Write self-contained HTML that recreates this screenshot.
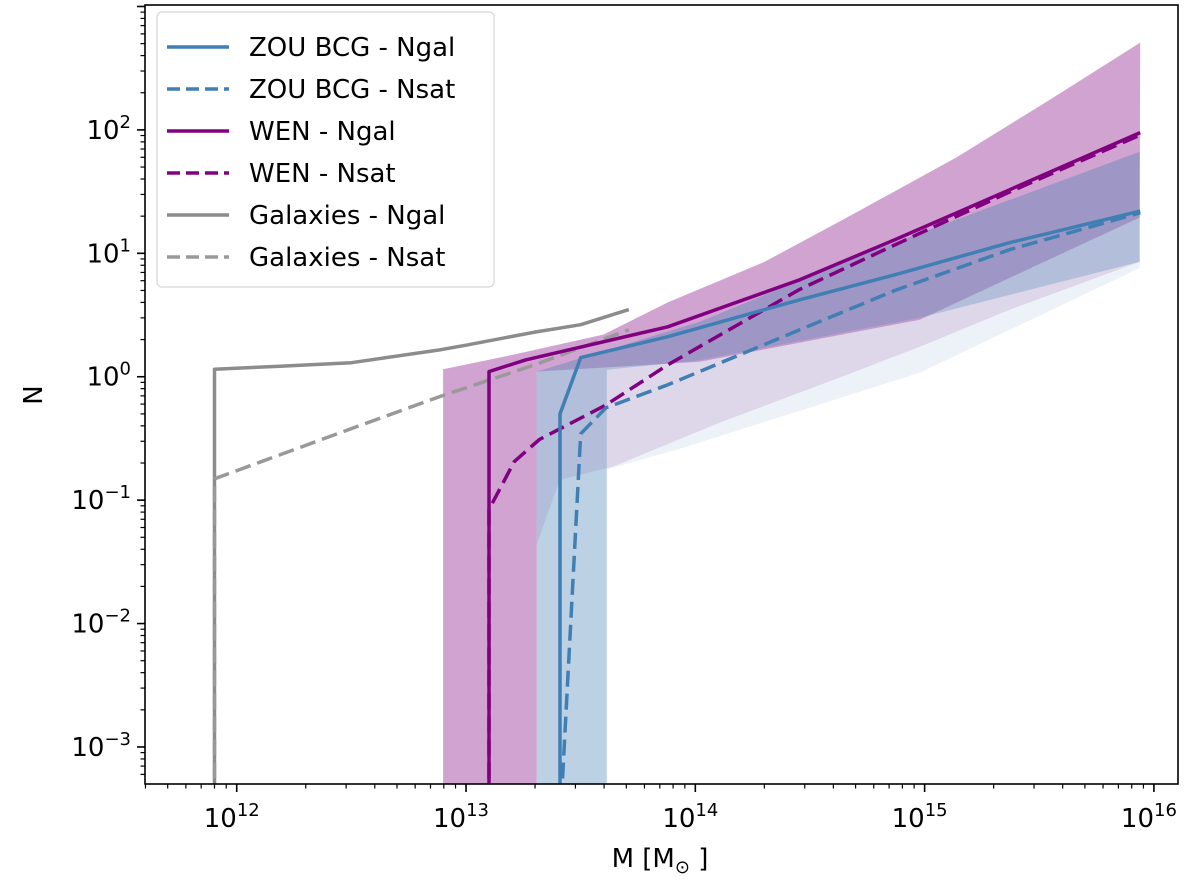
<!DOCTYPE html>
<html><head><meta charset="utf-8"><style>
body{margin:0;background:#fff;}
svg{display:block;font-family:"DejaVu Sans","Liberation Sans",sans-serif;}
</style></head><body>
<svg id="chart" width="1200" height="884" viewBox="0 0 1200 884" xmlns="http://www.w3.org/2000/svg">
<defs><clipPath id="plotclip"><rect x="145" y="5" width="1033" height="779"/></clipPath></defs>
<rect width="1200" height="884" fill="#fff"/>
<g id="bands" clip-path="url(#plotclip)"></g>
<g id="lines" clip-path="url(#plotclip)"></g>
<g id="axes"></g>
<rect x="145" y="5" width="1033" height="779" fill="none" stroke="#000" stroke-width="1.6"/>
<g>
<rect x="157" y="12" width="337" height="275" rx="5" fill="#fff" fill-opacity="0.85" stroke="#d8d8d8" stroke-width="1.3"/>
<g><line x1="167" y1="47" x2="229" y2="47" stroke="#3f7fb3" stroke-width="3.5"/><text x="249" y="56" font-size="26">ZOU BCG - Ngal</text></g>
<g><line x1="167" y1="89" x2="229" y2="89" stroke="#3f7fb3" stroke-width="3.5" stroke-dasharray="13,6"/><text x="249" y="98" font-size="26">ZOU BCG - Nsat</text></g>
<g><line x1="167" y1="131" x2="229" y2="131" stroke="#800080" stroke-width="3.5"/><text x="249" y="140" font-size="26">WEN - Ngal</text></g>
<g><line x1="167" y1="173" x2="229" y2="173" stroke="#800080" stroke-width="3.5" stroke-dasharray="13,6"/><text x="249" y="182" font-size="26">WEN - Nsat</text></g>
<g><line x1="167" y1="215" x2="229" y2="215" stroke="#8c8c8c" stroke-width="3.5"/><text x="249" y="224" font-size="26">Galaxies - Ngal</text></g>
<g><line x1="167" y1="257" x2="229" y2="257" stroke="#999" stroke-width="3.5" stroke-dasharray="13,6"/><text x="249" y="266" font-size="26">Galaxies - Nsat</text></g>
</g>
<text x="660" y="867" font-size="26" text-anchor="middle">M [M<tspan font-size="18" dy="6">⊙</tspan><tspan dy="-6"> ]</tspan></text>
<text x="0" y="0" font-size="26" text-anchor="middle" transform="translate(42,395) rotate(-90)">N</text>
</svg>
<script>
// ---- data (log10 M, N) ----
const galNgalLogM=[11.903,11.903,12.2,12.5,12.885,13.0,13.3,13.5,13.71];
const galNgalN=[1e-4,1.15,1.22,1.3,1.65,1.8,2.3,2.64,3.5];
const galNsatLogM=[11.903,11.903,12.5,12.885,13.3,13.71];
const galNsatN=[1e-4,0.149,0.38,0.69,1.25,2.4];
const wenNgalLogM=[13.10,13.10,13.26,13.88,14.455,14.87,15.37,15.94];
const wenNgalN=[1e-4,1.1,1.37,2.54,6.1,12.9,32.7,95];
const wenNsatLogM=[13.10,13.10,13.21,13.32,13.61,13.88,14.455,14.87,15.37,15.94];
const wenNsatN=[1e-4,0.084,0.205,0.31,0.59,1.25,5.1,11.7,31.4,91];
const zouNgalLogM=[13.41,13.41,13.50,13.88,14.455,14.87,15.37,15.94];
const zouNgalN=[1e-4,0.5,1.43,2.11,4.2,6.7,12.2,22];
const zouNsatLogM=[13.40,13.50,13.61,13.88,14.455,14.87,15.37,15.94];
const zouNsatN=[1e-4,0.345,0.56,0.86,2.4,5,10.7,21.3];
// bands
const wenUpLogM=[12.9,13.2,13.6,13.88,14.3,14.643,15.14,15.545,15.94];
const wenUpN=[1.15,1.5,2.2,4.0,8.5,18.7,60,175,510];
const wenLoLogM=[12.9,13.308,13.308,14.019,14.979,15.938];
const wenLoN=[1e-4,1e-4,1.10,1.32,2.9,19.5];
const wenOutLogM=[13.308,13.409,13.64,14.106,14.686,14.979,15.371,15.938];
const wenOutN=[0.0436,0.146,0.187,0.424,1.08,1.75,3.49,8.55];
const zouUpLogM=[13.308,14.019,14.748,15.371,15.938];
const zouUpN=[1.10,2.79,10.1,27.1,66.6];
const zouLoLogM=[13.308,13.614,13.614,14.019,14.979,15.938];
const zouLoN=[1e-4,1e-4,1.14,1.36,3.0,8.55];
const zouOutLogM=[13.614,13.962,14.979,15.938];
const zouOutN=[0.177,0.271,1.08,7.6];
const xTickExp=[12,13,14,15,16];
const yTickExp=[-3,-2,-1,0,1,2];
// ---- scales ----
const X0=145,X1=1178,LX0=11.6,LX1=16.105;
const Y0=784,Y1=5,LY0=-3.3,LY1=3.012;
function sx(lm){return X0+(lm-LX0)/(LX1-LX0)*(X1-X0);}
function sy(n){return Y0-(Math.log10(n)-LY0)/(LY1-LY0)*(Y0-Y1);}
const NS="http://www.w3.org/2000/svg";
function pts(lm,n){return lm.map((v,i)=>sx(v).toFixed(1)+","+sy(n[i]).toFixed(1));}
const bands=document.getElementById('bands'),lines=document.getElementById('lines'),axes=document.getElementById('axes');
function band(name,ulm,un,llm,ln,color,op){
 const p=document.createElementNS(NS,'polygon');
 const u=pts(ulm,un),l=pts(llm,ln).reverse();
 p.setAttribute('points',u.concat(l).join(' '));
 p.setAttribute('fill',color);p.setAttribute('fill-opacity',op);
 
 
 bands.appendChild(p);
}
band('wen-outer-band',wenLoLogM.slice(2),wenLoN.slice(2),wenOutLogM,wenOutN,'#800080',0.12);
band('zou-outer-band',zouLoLogM.slice(2),zouLoN.slice(2),zouOutLogM,zouOutN,'#4682b4',0.1);
band('wen-band',wenUpLogM,wenUpN,wenLoLogM,wenLoN,'#800080',0.36);
band('zou-band',zouUpLogM,zouUpN,zouLoLogM,zouLoN,'#4682b4',0.36);
function line(name,lm,n,color,dash){
 const p=document.createElementNS(NS,'polyline');
 p.setAttribute('points',pts(lm,n).join(' '));
 p.setAttribute('fill','none');p.setAttribute('stroke',color);p.setAttribute('stroke-width','3.5');
 p.setAttribute('stroke-linejoin','round');
 if(dash)p.setAttribute('stroke-dasharray','16,7');
 
 
 lines.appendChild(p);
}
line('galaxies-ngal-line',galNgalLogM,galNgalN,'#8c8c8c',false);
line('galaxies-nsat-line',galNsatLogM,galNsatN,'#999999',true);
line('wen-ngal-line',wenNgalLogM,wenNgalN,'#800080',false);
line('wen-nsat-line',wenNsatLogM,wenNsatN,'#800080',true);
line('zou-ngal-line',zouNgalLogM,zouNgalN,'#3f7fb3',false);
line('zou-nsat-line',zouNsatLogM,zouNsatN,'#3f7fb3',true);
// ---- ticks ----
function tick(x1,y1,x2,y2,w){const l=document.createElementNS(NS,'line');
 l.setAttribute('x1',x1);l.setAttribute('y1',y1);l.setAttribute('x2',x2);l.setAttribute('y2',y2);
 l.setAttribute('stroke','#000');l.setAttribute('stroke-width',w);
 
 
 axes.appendChild(l);}
for(let e=11;e<=16;e++){for(let m=1;m<10;m++){const lm=e+Math.log10(m);if(lm<LX0||lm>LX1)continue;
 const x=sx(lm);if(m===1)tick(x,Y0,x,Y0+8,1.6);else tick(x,Y0,x,Y0+4.5,1.2);}}
for(let e=-4;e<=3;e++){for(let m=1;m<10;m++){const lv=e+Math.log10(m);if(lv<LY0||lv>LY1)continue;
 const y=sy(Math.pow(10,lv));if(m===1)tick(X0,y,X0-8,y,1.6);else tick(X0,y,X0-4.5,y,1.2);}}
xTickExp.forEach(e=>{const t=document.createElementNS(NS,'text');
 t.setAttribute('x',sx(e)-33);t.setAttribute('y',Y0+43);t.setAttribute('font-size','26');
 t.innerHTML='10<tspan font-size="18" dy="-11">'+e+'</tspan>';
 
 
 axes.appendChild(t);});
yTickExp.forEach(e=>{const t=document.createElementNS(NS,'text');
 t.setAttribute('x',X0-14);t.setAttribute('y',sy(Math.pow(10,e))+9);t.setAttribute('font-size','26');t.setAttribute('text-anchor','end');
 t.innerHTML='10<tspan font-size="18" dy="-11">'+(e<0?'\u2212'+(-e):e)+'</tspan>';
 
 
 axes.appendChild(t);});
</script>
</body></html>
